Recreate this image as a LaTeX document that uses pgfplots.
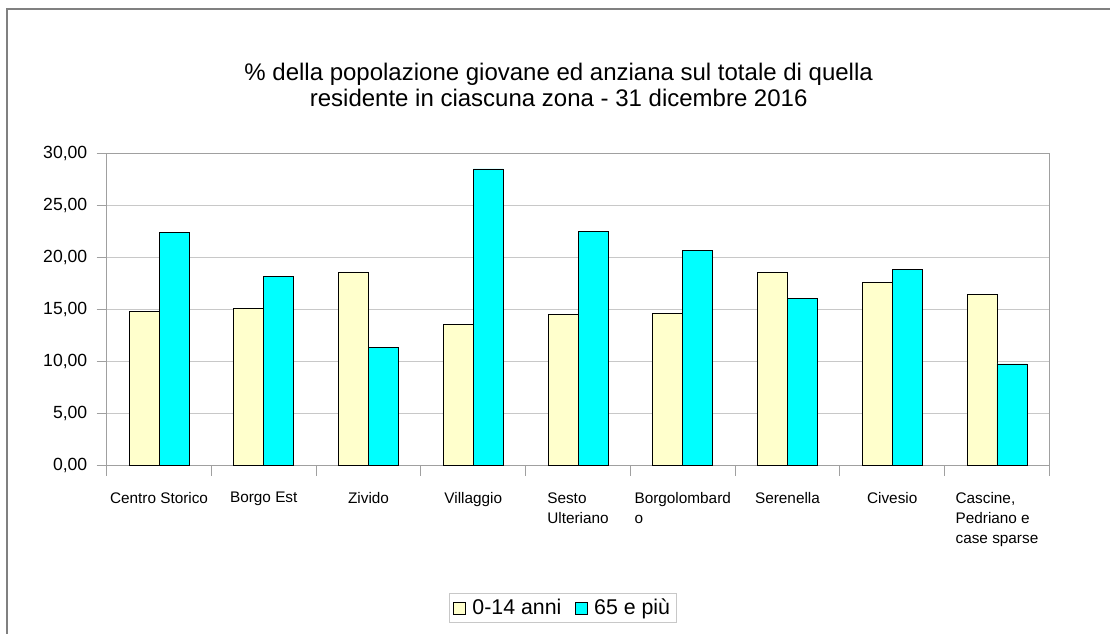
\documentclass[border=0pt]{standalone}
\usepackage{fontspec}
\setmainfont{Liberation Sans}
\usepackage{pgfplots}
\pgfplotsset{compat=1.18}
\definecolor{cyanbar}{HTML}{00FFFF}
\definecolor{yelbar}{HTML}{FFFFCC}
\definecolor{gridc}{HTML}{C8C8C8}
\definecolor{axc}{HTML}{A0A0A0}
\begin{document}
\begin{tikzpicture}
\useasboundingbox (0,0) rectangle (832.5pt,-475.5pt);
\draw[color=gray, line width=1.5pt] (5.25pt,-476pt) -- (5.25pt,-6.75pt) -- (833pt,-6.75pt);
\node[align=center, font=\fontsize{18}{19.5}\selectfont] at (419pt,-63.75pt) {\% della popolazione giovane ed anziana sul totale di quella\\residente in ciascuna zona - 31 dicembre 2016};
\begin{axis}[
  at={(80pt,-349.3pt)}, anchor=south west, scale only axis,
  width=707pt, height=234.3pt,
  xmin=-0.5, xmax=8.5, ymin=0, ymax=30,
  ybar=0pt, bar width=22.5pt,
  axis line style={axc, line width=0.9pt},
  tick style={axc, line width=0.9pt},
  tick align=outside, tick pos=left,
  major tick length=7.5pt, minor tick length=7.5pt,
  xtick={0,...,8},
  major x tick style={draw=none},
  minor xtick={-0.5,0.5,...,8.5},
  xticklabels={Centro Storico, Borgo Est, Zivido, Villaggio, Sesto\\Ulteriano, Borgolombard\\o, Serenella, Civesio, {Cascine,\\Pedriano e\\case sparse}},
  xticklabel style={font=\fontsize{11.5}{15}\selectfont, align=left, anchor=north, yshift=-9pt},
  ytick={0,5,...,30},
  yticklabels={{0,00},{5,00},{10,00},{15,00},{20,00},{25,00},{30,00}},
  yticklabel style={font=\fontsize{13.2}{15}\selectfont, xshift=-3.5pt},
  ymajorgrids, grid style={gridc, line width=0.9pt},
  legend style={at={(0.484,-0.4555)}, anchor=center, draw=gridc, line width=0.75pt,
    font=\fontsize{16}{18}\selectfont, legend columns=2,
    /tikz/every even column/.append style={column sep=8pt}},
  legend image code/.code={\draw[#1, line width=0.5pt] (0pt,-4.5pt) rectangle (9pt,4.5pt); \path (12pt,0pt);},
]
\addplot[fill=yelbar, draw=black, line width=0.6pt] coordinates {
  (0,14.78) (1,15.13) (2,18.61) (3,13.53) (4,14.49) (5,14.62) (6,18.54) (7,17.58) (8,16.45)};
\addplot[fill=cyanbar, draw=black, line width=0.6pt] coordinates {
  (0,22.40) (1,18.22) (2,11.38) (3,28.50) (4,22.53) (5,20.69) (6,16.03) (7,18.89) (8,9.77)};
\legend{0-14 anni, 65 e più}
\end{axis}
\end{tikzpicture}
\end{document}
